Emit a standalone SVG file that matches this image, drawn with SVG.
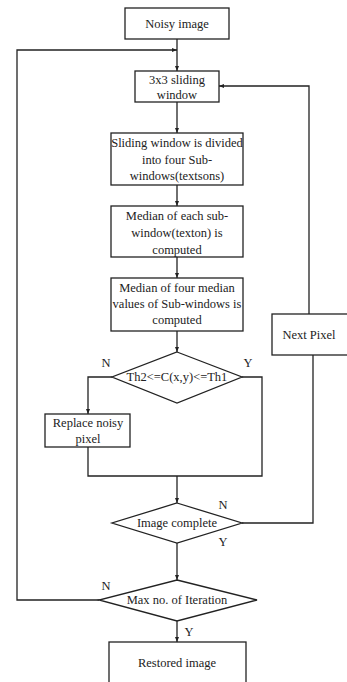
<svg xmlns="http://www.w3.org/2000/svg" width="347" height="682" viewBox="0 0 347 682">
<defs>
<marker id="ah" viewBox="0 0 10 10" refX="10" refY="5" markerWidth="5" markerHeight="5" orient="auto" markerUnits="userSpaceOnUse">
<path d="M0,1 L10,5 L0,9 z" fill="#222"/>
</marker>
<style>
.box{fill:#fff;stroke:#222;stroke-width:1.3}
.ln{fill:none;stroke:#222;stroke-width:1.3}
text{font-family:'Liberation Serif','Times New Roman',serif;font-size:12.5px;fill:#222;text-anchor:middle}
</style>
</defs>
<rect width="347" height="682" fill="#fff"/>
<g id="connectors">
<line class="ln" x1="177" y1="39" x2="177" y2="71" marker-end="url(#ah)"/>
<polyline class="ln" points="99,600 17,600 17,50 177,50" marker-end="url(#ah)"/>
<line class="ln" x1="177" y1="102" x2="177" y2="133" marker-end="url(#ah)"/>
<line class="ln" x1="177" y1="185" x2="177" y2="206" marker-end="url(#ah)"/>
<line class="ln" x1="177" y1="257" x2="177" y2="278" marker-end="url(#ah)"/>
<line class="ln" x1="177" y1="331" x2="177" y2="352" marker-end="url(#ah)"/>
<polyline class="ln" points="112,377 88,377 88,414" marker-end="url(#ah)"/>
<polyline class="ln" points="242,377 262,377 262,476 88,476 88,447"/>
<line class="ln" x1="177" y1="476" x2="177" y2="503" marker-end="url(#ah)"/>
<polyline class="ln" points="242,523 313,523 313,355"/>
<polyline class="ln" points="309,314 309,86 219,86" marker-end="url(#ah)"/>
<line class="ln" x1="177" y1="543" x2="177" y2="580" marker-end="url(#ah)"/>
<line class="ln" x1="177" y1="621" x2="177" y2="642" marker-end="url(#ah)"/>
<text x="106" y="367">N</text>
<text x="248" y="367">Y</text>
<text x="223" y="509">N</text>
<text x="223" y="546">Y</text>
<text x="106" y="590">N</text>
<text x="189" y="636">Y</text>
</g>
<g id="noisy">
<rect class="box" x="125" y="8" width="104" height="31"/>
<text x="177" y="28">Noisy image</text>
</g>
<g id="window">
<rect class="box" x="135" y="71" width="84" height="31"/>
<text x="177" y="84">3x3 sliding</text>
<text x="177" y="99">window</text>
</g>
<g id="divide">
<rect class="box" x="111" y="133" width="132" height="52"/>
<text x="177" y="147">Sliding window is divided</text>
<text x="177" y="164">into four Sub-</text>
<text x="177" y="180">windows(textsons)</text>
</g>
<g id="median-each">
<rect class="box" x="111" y="206" width="132" height="51"/>
<text x="177" y="220">Median of each sub-</text>
<text x="177" y="237">window(texton) is</text>
<text x="177" y="254">computed</text>
</g>
<g id="median-four">
<rect class="box" x="111" y="278" width="132" height="53"/>
<text x="177" y="292">Median of four median</text>
<text x="177" y="308">values of Sub-windows is</text>
<text x="177" y="324">computed</text>
</g>
<g id="threshold">
<polygon class="box" points="177,352 242,377 177,403 112,377"/>
<text x="177" y="381">Th2&lt;=C(x,y)&lt;=Th1</text>
</g>
<g id="replace">
<rect class="box" x="45" y="414" width="85" height="33"/>
<text x="88" y="427">Replace noisy</text>
<text x="88" y="443">pixel</text>
</g>
<g id="next">
<rect class="box" x="272" y="314" width="76" height="41"/>
<text x="309" y="339">Next Pixel</text>
</g>
<g id="complete">
<polygon class="box" points="177,503 242,523 177,543 112,523"/>
<text x="177" y="527">Image complete</text>
</g>
<g id="maxiter">
<polygon class="box" points="177,580 257,600 177,621 99,600"/>
<text x="177" y="604">Max no. of Iteration</text>
</g>
<g id="restored">
<rect class="box" x="109" y="642" width="137" height="50"/>
<text x="177" y="667">Restored image</text>
</g>
</svg>
